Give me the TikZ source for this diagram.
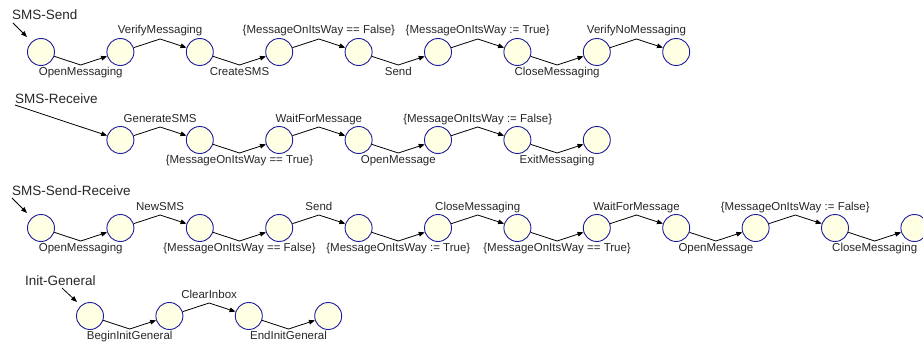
\documentclass[tikz,border=0pt]{standalone}
\usepackage{fontspec}
\setmainfont{Liberation Sans}
\usetikzlibrary{arrows.meta,calc}
\definecolor{stfill}{RGB}{255,255,228}
\definecolor{stdraw}{RGB}{28,28,160}
\tikzset{
  state/.style={circle,draw=stdraw,fill=stfill,line width=0.9pt,minimum size=27pt,inner sep=0pt},
  conn/.style={draw=black,line width=0.8pt,-{Triangle[length=6pt,width=4.6pt]}},
  lbl/.style={anchor=base,inner sep=0pt,font=\fontsize{11.5}{13}\selectfont,text=black!85},
  ttl/.style={anchor=base west,inner sep=0pt,font=\fontsize{13.5}{15}\selectfont,text=black!85},
}
\newcommand\dnedge[3]{%
  \path ($(#1)!0.5!(#2)+(0,13)$) coordinate (bnd);
  \draw[conn] (#1) -- (bnd) -- (#2);
  \node[lbl] at ($(bnd)+(0,10)$) {#3};}
\newcommand\upedge[3]{%
  \path ($(#1)!0.5!(#2)+(0,-13)$) coordinate (bnd);
  \draw[conn] (#1) -- (bnd) -- (#2);
  \node[lbl] at ($(bnd)+(0,-5)$) {#3};}
\begin{document}
\begin{tikzpicture}[x=1pt,y=-1pt]
\useasboundingbox (0,0) rectangle (923,345);
% Row 1
\node[ttl] (t1) at (12,20) {SMS-Send};
\foreach \k in {0,...,8} {\node[state] (a\k) at ({41+79.4*\k},52) {};}
\coordinate (t1s) at (13,23);
\coordinate (t1e) at (27,37);
\draw[conn] (t1s) -- (t1e);
\dnedge{a0}{a1}{OpenMessaging}
\upedge{a1}{a2}{VerifyMessaging}
\dnedge{a2}{a3}{CreateSMS}
\upedge{a3}{a4}{\{MessageOnItsWay == False\}}
\dnedge{a4}{a5}{Send}
\upedge{a5}{a6}{\{MessageOnItsWay := True\}}
\dnedge{a6}{a7}{CloseMessaging}
\upedge{a7}{a8}{VerifyNoMessaging}
% Row 2
\node[ttl] (t2) at (15,103) {SMS-Receive};
\foreach \k in {1,...,7} {\node[state] (b\k) at ({41+79.4*\k},140) {};}
\coordinate (t2s) at (15,105);
\draw[conn] (t2s) -- (b1);
\upedge{b1}{b2}{GenerateSMS}
\dnedge{b2}{b3}{\{MessageOnItsWay == True\}}
\upedge{b3}{b4}{WaitForMessage}
\dnedge{b4}{b5}{OpenMessage}
\upedge{b5}{b6}{\{MessageOnItsWay := False\}}
\dnedge{b6}{b7}{ExitMessaging}
% Row 3
\node[ttl] (t3) at (12,195) {SMS-Send-Receive};
\foreach \k in {0,...,11} {\node[state] (c\k) at ({41+79.4*\k},228) {};}
\coordinate (t3s) at (12,198);
\coordinate (t3e) at (27,213);
\draw[conn] (t3s) -- (t3e);
\dnedge{c0}{c1}{OpenMessaging}
\upedge{c1}{c2}{NewSMS}
\dnedge{c2}{c3}{\{MessageOnItsWay == False\}}
\upedge{c3}{c4}{Send}
\dnedge{c4}{c5}{\{MessageOnItsWay := True\}}
\upedge{c5}{c6}{CloseMessaging}
\dnedge{c6}{c7}{\{MessageOnItsWay == True\}}
\upedge{c7}{c8}{WaitForMessage}
\dnedge{c8}{c9}{OpenMessage}
\upedge{c9}{c10}{\{MessageOnItsWay := False\}}
\dnedge{c10}{c11}{CloseMessaging}
% Row 4
\node[ttl] (t4) at (25,285) {Init-General};
\foreach \k in {0,...,3} {\node[state] (d\k) at ({90+79.4*\k},316) {};}
\coordinate (t4s) at (62,288);
\coordinate (t4e) at (77,302);
\draw[conn] (t4s) -- (t4e);
\dnedge{d0}{d1}{BeginInitGeneral}
\upedge{d1}{d2}{ClearInbox}
\dnedge{d2}{d3}{EndInitGeneral}
\end{tikzpicture}
\end{document}
